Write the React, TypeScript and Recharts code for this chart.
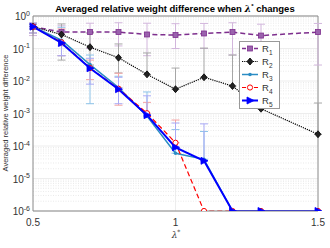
import React from 'react';
import { LineChart, Line, XAxis, YAxis, ErrorBar, ReferenceLine, Legend } from 'recharts';

// lambda* values on the x axis (1.4 has no sample)
const lambdas = [0.5, 0.6, 0.7, 0.8, 0.9, 1.0, 1.1, 1.2, 1.3, 1.5];

// averaged relative weight difference per series
const r1 = [0.47, 0.32, 0.32, 0.32, 0.27, 0.26, 0.29, 0.32, 0.25, 0.32];
const r2 = [0.47, 0.27, 0.11, 0.052, 0.016, 0.0056, 0.013, 0.007, 0.0014, 0.00023];
const r3 = [0.47, 0.18, 0.032, 0.0063, 0.00083, 0.00006, 0.000039, 1e-6, 1e-6, 1e-6];
const r4 = [0.47, 0.155, 0.025, 0.0058, 0.00102, 0.000126, 1e-6, 1e-6, 1e-6, 1e-6];
const r5 = [0.47, 0.148, 0.0246, 0.0056, 0.00089, 0.000091, 0.000035, 1e-6, 1e-6, 1e-6];

// error bar ends (lower / upper)
const r1Lo = [0.25, 0.12, 0.1, 0.12, 0.06, 0.1, 0.1, 0.063, 0.08, 0.031];
const r1Hi = [0.6, 0.5, 0.6, 0.62, 0.6, 0.58, 0.59, 0.62, 0.56, 0.59];
const r2Lo = [0.4, 0.044, 0.031, 0.0177, 0.016, 0.0056, 0.013, 0.007, 0.0014, 0.00023];
const r2Hi = [0.55, 0.57, 0.3, 0.138, 0.073, 0.025, 0.103, 0.063, 0.0095, 0.0021];
const r3Lo = [0.3, 0.06, 0.002, 0.0063, 0.00083, 0.00006, 0.000039, 1e-6, 1e-6, 1e-6];
const r3Hi = [0.6, 0.45, 0.063, 0.014, 0.0046, 0.00032, 0.00028, 1e-6, 1e-6, 1e-6];
const r4Lo = [0.3, 0.06, 0.011, 0.0018, 0.00102, 0.000126, 1e-6, 1e-6, 1e-6, 1e-6];
const r4Hi = [0.6, 0.4, 0.044, 0.0173, 0.0022, 0.00063, 1e-6, 1e-6, 1e-6, 1e-6];
const r5Lo = [0.3, 0.06, 0.008, 0.002, 0.00089, 0.000091, 0.000035, 1e-6, 1e-6, 1e-6];
const r5Hi = [0.6, 0.35, 0.05, 0.013, 0.0035, 0.00051, 0.00048, 1e-6, 1e-6, 1e-6];

const yTicks = [1e-6, 1e-5, 1e-4, 1e-3, 1e-2, 1e-1, 1];
const minorY = [-6, -5, -4, -3, -2, -1].flatMap(d => [2, 3, 4, 5, 6, 7, 8, 9].map(m => m * Math.pow(10, d)));

// no bar where both ends sit on the point
const err = (v: number, lo: number, hi: number) => (lo === v && hi === v ? null : [v - lo, hi - v]);

const rows = lambdas.map((x, i) => ({
    x,
    r1: r1[i], r2: r2[i], r3: r3[i], r4: r4[i], r5: r5[i],
    e1: err(r1[i], r1Lo[i], r1Hi[i]),
    e2: err(r2[i], r2Lo[i], r2Hi[i]),
    e3: err(r3[i], r3Lo[i], r3Hi[i]),
    e4: err(r4[i], r4Lo[i], r4Hi[i]),
    e5: err(r5[i], r5Lo[i], r5Hi[i]),
}));

const FONT = '"Liberation Sans", Arial, sans-serif';

const C1 = '#7e2f8e';
const C3 = '#2a8cc4';

const squareDot = (p: any) => (
    <rect key={`s${p.index}`} x={p.cx - 2.5} y={p.cy - 2.5} width={5} height={5} fill="#9a62ad" stroke={C1} strokeWidth={0.8} />
);
const diamondDot = (p: any) => (
    <path key={`d${p.index}`} d={`M${p.cx},${p.cy - 3.5}L${p.cx + 3},${p.cy}L${p.cx},${p.cy + 3.5}L${p.cx - 3},${p.cy}Z`} fill="#222" stroke="#000" strokeWidth={0.8} />
);
const pointDot = (p: any) => (
    <circle key={`p${p.index}`} cx={p.cx} cy={p.cy} r={1.8} fill={C3} />
);
const circleDot = (p: any) => (
    <circle key={`c${p.index}`} cx={p.cx} cy={p.cy} r={2.6} fill="#fff" stroke="#ff0000" strokeWidth={1} />
);
const triDot = (p: any) => (
    <path key={`t${p.index}`} d={`M${p.cx + 4},${p.cy}L${p.cx - 3},${p.cy - 3.5}L${p.cx - 3},${p.cy + 3.5}Z`} fill="#0000ff" stroke="#0000ff" strokeWidth={0.8} />
);

const YTick = (props: any) => {
    const e = Math.round(Math.log10(props.payload.value));
    return (
        <text x={30} y={props.y + 4} textAnchor="end" fontSize={10} fill="#333" fontFamily={FONT}>
            10<tspan dy={-4.5} fontSize={7}>{e}</tspan>
        </text>
    );
};

const legendItems = [
    { n: '1', stroke: C1, dash: '4 2', w: 1.5, dot: squareDot },
    { n: '2', stroke: '#000', dash: '1.2 1', w: 1.2, dot: diamondDot },
    { n: '3', stroke: C3, dash: undefined, w: 1.5, dot: pointDot },
    { n: '4', stroke: '#ff0000', dash: '4 2', w: 1.2, dot: circleDot },
    { n: '5', stroke: '#0000ff', dash: undefined, w: 2, dot: triDot },
];

const LegendBox = () => (
    <svg width={41} height={68} style={{ display: 'block' }}>
        <rect x={0.5} y={0.5} width={40} height={67} fill="#fff" stroke="#999" strokeWidth={1} />
        {legendItems.map((it, i) => {
            const cy = 7.5 + i * 13;
            return (
                <g key={it.n}>
                    <line x1={3} x2={19} y1={cy} y2={cy} stroke={it.stroke} strokeWidth={it.w} strokeDasharray={it.dash} />
                    {it.dot({ cx: 11, cy, index: i })}
                    <text x={23} y={cy + 3.5} fontSize={9.5} fill="#333" fontFamily={FONT}>
                        R<tspan dy={2.5} fontSize={6.5}>{it.n}</tspan>
                    </text>
                </g>
            );
        })}
    </svg>
);

export default function App() {
    return (
        <div style={{ position: 'absolute', left: 0, top: 0, width: 330, height: 248, background: '#fff' }}>
            <LineChart width={330} height={248} data={rows} margin={{ top: 16, right: 12, left: 0, bottom: 0 }}>
                {minorY.map(v => (
                    <ReferenceLine key={`m${v}`} y={v} stroke="#e4e4e4" strokeDasharray="1 1.5" strokeWidth={0.8} />
                ))}
                {yTicks.map(v => (
                    <ReferenceLine key={`g${v}`} y={v} stroke="#e8e8e8" strokeWidth={0.8} />
                ))}
                <ReferenceLine x={1} stroke="#e8e8e8" strokeWidth={0.8} />
                <XAxis
                    type="number"
                    dataKey="x"
                    domain={[0.5, 1.5]}
                    ticks={[0.5, 1, 1.5]}
                    height={37}
                    tickLine={false}
                    axisLine={{ stroke: '#888' }}
                    tick={{ fontSize: 10, fill: '#333', fontFamily: FONT }}
                    tickFormatter={(v) => String(v)}
                />
                <YAxis
                    scale="log"
                    domain={[1e-6, 1]}
                    allowDataOverflow
                    ticks={yTicks}
                    width={33}
                    tickLine={false}
                    axisLine={{ stroke: '#888' }}
                    tick={<YTick />}
                />
                <ReferenceLine y={1} stroke="#888" />
                <ReferenceLine x={1.5} stroke="#888" />

                {/* error bars drawn behind the series */}
                <Line dataKey="r1" stroke="none" dot={false} activeDot={false} legendType="none" isAnimationActive={false}>
                    <ErrorBar dataKey="e1" width={4} stroke="#d2b6dc" strokeWidth={1} isAnimationActive={false} />
                </Line>
                <Line dataKey="r2" stroke="none" dot={false} activeDot={false} legendType="none" isAnimationActive={false}>
                    <ErrorBar dataKey="e2" width={4} stroke="#a6a6a6" strokeWidth={1} isAnimationActive={false} />
                </Line>
                <Line dataKey="r3" stroke="none" dot={false} activeDot={false} legendType="none" isAnimationActive={false}>
                    <ErrorBar dataKey="e3" width={4} stroke="#8cc2e8" strokeWidth={1} isAnimationActive={false} />
                </Line>
                <Line dataKey="r4" stroke="none" dot={false} activeDot={false} legendType="none" isAnimationActive={false}>
                    <ErrorBar dataKey="e4" width={4} stroke="#f4a3a3" strokeWidth={1} isAnimationActive={false} />
                </Line>
                <Line dataKey="r5" stroke="none" dot={false} activeDot={false} legendType="none" isAnimationActive={false}>
                    <ErrorBar dataKey="e5" width={4} stroke="#a9a9f5" strokeWidth={1} isAnimationActive={false} />
                </Line>

                <Line dataKey="r1" stroke={C1} strokeWidth={1.5} strokeDasharray="5 3" dot={squareDot} activeDot={false} isAnimationActive={false} />
                <Line dataKey="r2" stroke="#000" strokeWidth={1.2} strokeDasharray="1.2 1" dot={diamondDot} activeDot={false} isAnimationActive={false} />
                <Line dataKey="r3" stroke={C3} strokeWidth={1.5} dot={pointDot} activeDot={false} isAnimationActive={false} />
                <Line dataKey="r4" stroke="#ff0000" strokeWidth={1.2} strokeDasharray="5 3" dot={circleDot} activeDot={false} isAnimationActive={false} />
                <Line dataKey="r5" stroke="#0000ff" strokeWidth={2} dot={triDot} activeDot={false} isAnimationActive={false} />

                <Legend
                    layout="vertical"
                    align="center"
                    verticalAlign="middle"
                    content={() => <LegendBox />}
                    wrapperStyle={{ left: 239, top: 41, width: 41, height: 68 }}
                />
            </LineChart>
            <svg width={330} height={248} style={{ position: 'absolute', left: 0, top: 0, pointerEvents: 'none' }}>
                <text x={175} y={12} textAnchor="middle" fontSize={9.5} fontWeight="bold" fill="#000" fontFamily={FONT}>
                    Averaged relative weight difference when <tspan fontFamily="'DejaVu Serif', serif" fontStyle="italic">λ</tspan>
                    <tspan dy={-4} fontSize={6}>*</tspan><tspan dy={4}> changes</tspan>
                </text>
                <text
                    x={8}
                    y={113}
                    transform="rotate(-90 8 113)"
                    textAnchor="middle"
                    fontSize={7.5}
                    fill="#333"
                    fontFamily={FONT}
                >
                    Averaged relative weight difference
                </text>
                <text x={176} y={238} textAnchor="middle" fontSize={9} fill="#333" fontFamily="'DejaVu Serif', serif" fontStyle="italic">
                    λ<tspan dy={-4} fontSize={6}>*</tspan>
                </text>
            </svg>
        </div>
    );
}
